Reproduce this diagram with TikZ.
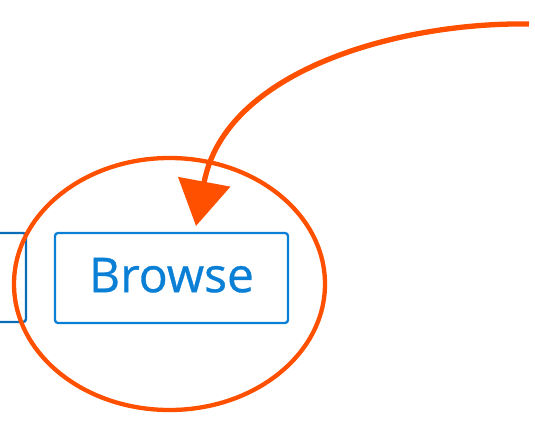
\documentclass[tikz,border=0pt]{standalone}
\usepackage{fontspec}
\usepackage{tikz}
\usetikzlibrary{shapes.geometric,arrows.meta}
\newfontfamily\btnfont[FakeBold=0.7]{Open Sans}
\definecolor{btnblue}{HTML}{0A7FD6}
\definecolor{markorange}{HTML}{FF5000}

\begin{document}
\begin{tikzpicture}
    % 样式: 按钮, 半隐的按钮, 圆圈, 箭头
    [x=1pt, y=-1pt,
    BtnNode/.style={rectangle, rounded corners=3pt, draw=btnblue, line width=2.3pt, inner sep=0pt},
    HalfBtn/.style={rectangle, rounded corners=3pt, draw=btnblue!85!black, line width=2.4pt, inner sep=0pt},
    RingNode/.style={ellipse, draw=markorange, line width=4.3pt, inner sep=0pt},
    MarkArrow/.style={draw=markorange, line width=5.3pt, -{Triangle[length=45pt, width=52pt]}}]

    % 画布大小
    \useasboundingbox (0,0) rectangle (535,425);

    % 左边被截掉的按钮
    \node[HalfBtn, minimum width=46, minimum height=89] (prev) at (3,277.5) {};

    % Browse 按钮
    \node[BtnNode, minimum width=233, minimum height=90, text=btnblue, text depth=6pt,
          font=\btnfont\fontsize{48}{48}\selectfont] (browse) at (171.5,278) {Browse};

    % 圈住按钮的椭圆
    \node[RingNode, minimum width=311, minimum height=252] (ring) at (169.5,284) {};

    % 箭头起点和箭头尖
    \coordinate (src) at (529,24);
    \coordinate (tip) at (196,226);

    % 弯曲箭头
    \draw[MarkArrow] (src) .. controls (400,22) and (225,70) .. (tip);

\end{tikzpicture}
\end{document}
